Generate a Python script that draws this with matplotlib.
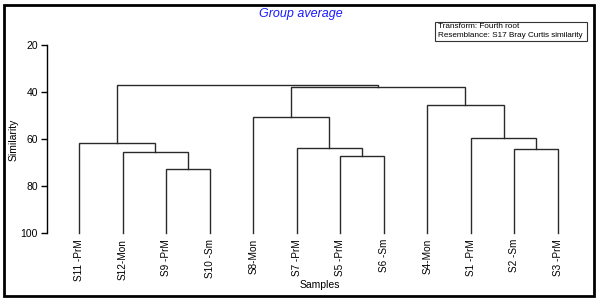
import matplotlib
matplotlib.use("Agg")
import matplotlib.pyplot as plt
from matplotlib.patches import Rectangle

plt.rcParams['font.family'] = ['Liberation Sans', 'DejaVu Sans']

leaf_labels = ["S11 -PrM", "S12-Mon", "S9 -PrM", "S10 -Sm", "S8-Mon", "S7 -PrM",
               "S5 -PrM", "S6 -Sm", "S4-Mon", "S1 -PrM", "S2 -Sm", "S3 -PrM"]
# merges: (left node, right node, similarity); new nodes numbered from 12
merge_left = [2, 1, 0, 6, 5, 4, 10, 9, 8, 17, 14]
merge_right = [3, 12, 13, 7, 15, 16, 11, 18, 19, 20, 21]
merge_sim = [72.8, 65.3, 61.8, 67.2, 63.9, 50.4, 64.3, 59.7, 45.5, 38.0, 37.1]
y_ticks = [20, 40, 60, 80, 100]

W, H = 600, 302
fig = plt.figure(figsize=(W / 100, H / 100), dpi=100)
fig.patch.set_facecolor('white')

# frame
fig.add_artist(Rectangle((4 / W, 1 - 296 / H), 590 / W, 291 / H, transform=fig.transFigure,
                         fill=False, edgecolor='black', linewidth=2))

ax_left, ax_right = 47, 590
y_top, y_bot = 45.0, 233.3
ax = fig.add_axes([ax_left / W, 1 - y_bot / H, (ax_right - ax_left) / W, (y_bot - y_top) / H])
ax.set_facecolor('none')

n = len(leaf_labels)
xpos = {i: float(i) for i in range(n)}
ypos = {i: 100.0 for i in range(n)}
lc = '#2a2a2a'
for k, (a, b, s) in enumerate(zip(merge_left, merge_right, merge_sim)):
    node = n + k
    xa, xb = xpos[a], xpos[b]
    ax.plot([xa, xa, xb, xb], [ypos[a], s, s, ypos[b]], color=lc, lw=1.0,
            solid_joinstyle='miter', clip_on=False)
    xpos[node] = (xa + xb) / 2
    ypos[node] = s

ax.set_ylim(100, 20)
ax.set_xlim(-0.735, 11.735)
ax.set_yticks(y_ticks)
ax.set_yticklabels([str(v) for v in y_ticks], fontsize=7.5)
ax.tick_params(axis='y', direction='out', length=4.5, width=1, pad=2)
ax.set_xticks(range(n))
ax.set_xticklabels(leaf_labels, rotation=90, fontsize=7.2, va='top', ha='center')
ax.tick_params(axis='x', length=0, pad=4)
for sp in ['top', 'right', 'bottom']:
    ax.spines[sp].set_visible(False)
ax.spines['left'].set_linewidth(1.0)

fig.text(14 / W, 1 - 140 / H, "Similarity", rotation=90, fontsize=7.5, ha='center', va='center')
fig.text(320 / W, 1 - 285 / H, "Samples", fontsize=7.5, ha='center', va='center')
fig.text(301 / W, 1 - 14 / H, "Group average", fontsize=9, style='italic', color='#1a1aff',
         ha='center', va='center')

fig.add_artist(Rectangle((435 / W, 1 - 41 / H), 152 / W, 19 / H, transform=fig.transFigure,
                         fill=False, edgecolor='#333333', linewidth=0.8))
fig.text(438 / W, 1 - 26 / H, "Transform: Fourth root", fontsize=5.9, ha='left', va='center')
fig.text(438 / W, 1 - 35.5 / H, "Resemblance: S17 Bray Curtis similarity", fontsize=5.9,
         ha='left', va='center')

fig.savefig("out.png", dpi=100, facecolor='white')
